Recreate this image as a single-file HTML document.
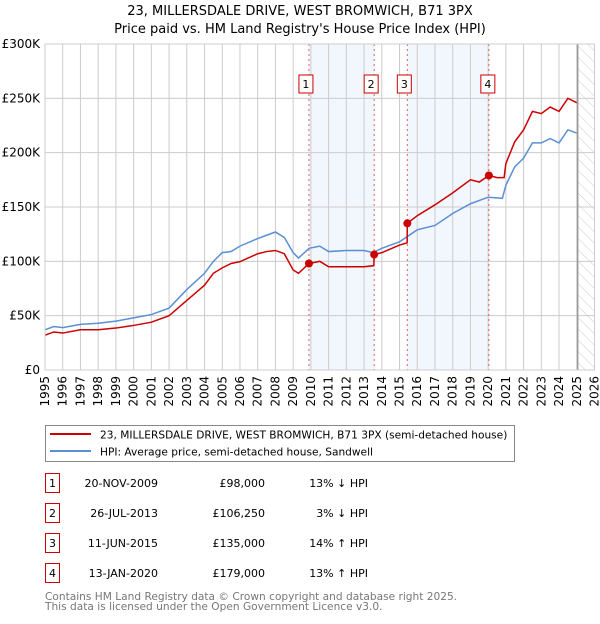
<!DOCTYPE html>
<html><head><meta charset="utf-8"><style>
body{margin:0;background:#fff;font-family:"DejaVu Sans","Liberation Sans",sans-serif;}
svg text{font-family:"DejaVu Sans","Liberation Sans",sans-serif;}
</style></head><body>
<svg id="chart" width="600" height="620" xmlns="http://www.w3.org/2000/svg">
<defs><pattern id="hatch" width="8" height="8" patternUnits="userSpaceOnUse" patternTransform="rotate(-45)"><line x1="0" y1="0" x2="0" y2="8" stroke="#ccc" stroke-width="1"/></pattern></defs>
<text x="300" y="15" text-anchor="middle" font-size="13">23, MILLERSDALE DRIVE, WEST BROMWICH, B71 3PX</text>
<text x="300" y="33" text-anchor="middle" font-size="13">Price paid vs. HM Land Registry's House Price Index (HPI)</text>
<g id="plot"></g>
<g>
<rect x="45.5" y="425.5" width="469" height="36" fill="#fff" stroke="#888"/>
<line x1="50" y1="434" x2="91" y2="434" stroke="#cc0000" stroke-width="2"/>
<text x="100" y="438.5" font-size="10.6">23, MILLERSDALE DRIVE, WEST BROMWICH, B71 3PX (semi-detached house)</text>
<line x1="50" y1="451" x2="91" y2="451" stroke="#5b8fd4" stroke-width="2"/>
<text x="100" y="455.5" font-size="10.6">HPI: Average price, semi-detached house, Sandwell</text>
</g>
<g id="table"></g>
<text x="45" y="600" font-size="10.6" fill="#777">Contains HM Land Registry data © Crown copyright and database right 2025.</text>
<text x="45" y="610" font-size="10.6" fill="#777">This data is licensed under the Open Government Licence v3.0.</text>
</svg>
<script>
const yTicks=[0,50,100,150,200,250,300];
const yTickLabels=["£0","£50K","£100K","£150K","£200K","£250K","£300K"];
const xYears=[1995,1996,1997,1998,1999,2000,2001,2002,2003,2004,2005,2006,2007,2008,2009,2010,2011,2012,2013,2014,2015,2016,2017,2018,2019,2020,2021,2022,2023,2024,2025,2026];
const hpiT=[1995,1995.5,1996,1997,1998,1999,2000,2001,2002,2003,2004,2004.5,2005,2005.5,2006,2007,2007.5,2008,2008.5,2009,2009.3,2009.9,2010.5,2011,2012,2013,2013.5,2014,2015,2016,2017,2018,2019,2020,2020.8,2021,2021.5,2022,2022.5,2023,2023.5,2024,2024.5,2025];
const hpiV=[37,40,39,42,43,45,48,51,57,74,89,100,108,109,114,121,124,127,122,108,103,112,114,109,110,110,108,112,118,129,133,144,153,159,158,170,187,195,209,209,213,209,221,218];
const redT=[1995,1995.5,1996,1997,1998,1999,2000,2001,2002,2002.5,2003,2003.5,2004,2004.5,2005,2005.5,2006,2007,2007.5,2008,2008.5,2009,2009.3,2009.89,2010.5,2011,2012,2013,2013.55,2013.57,2014,2015,2015.43,2015.44,2016,2017,2018,2019,2019.5,2020.04,2020.5,2020.9,2021,2021.5,2022,2022.5,2023,2023.5,2024,2024.5,2025];
const redV=[32,35,34,37,37,38.6,41,44,50,57,64,71,78,89,94,98,99.7,107,109,110,107,92,89,98,100,95,95,95,96,106.25,108,115,117,135,142,152,163,175,173,179,177,177,190,210,221,238,236,242,238,250,246];
const saleNums=["1","2","3","4"];
const saleT=[2009.89,2013.57,2015.44,2020.04];
const saleV=[98,106.25,135,179];
const saleDates=["20-NOV-2009","26-JUL-2013","11-JUN-2015","13-JAN-2020"];
const salePrices=["£98,000","£106,250","£135,000","£179,000"];
const saleHpi=["13% ↓ HPI","3% ↓ HPI","14% ↑ HPI","13% ↑ HPI"];
const shadeRanges=[[2009.89,2013.57],[2015.44,2020.04]];
const dataEnd=2025.05;

const NS="http://www.w3.org/2000/svg";
const X0=45,X1=594.5,Y0=370,Y1=44;
const xs=t=>X0+(t-1995)/(2026-1995)*(X1-X0);
const ys=v=>Y0-v/300*(Y0-Y1);
const plot=document.getElementById('plot');
function mk(tag,attrs,parent){const e=document.createElementNS(NS,tag);for(const k in attrs)e.setAttribute(k,attrs[k]);(parent||plot).appendChild(e);return e;}
shadeRanges.forEach(r=>{const e=mk('rect',{x:xs(r[0]),y:Y1,width:xs(r[1])-xs(r[0]),height:Y0-Y1,fill:'#f2f6fd'});

});
const h=mk('rect',{x:xs(dataEnd),y:Y1,width:X1-xs(dataEnd),height:Y0-Y1,fill:'url(#hatch)'});


xYears.forEach(yr=>{mk('line',{x1:xs(yr),x2:xs(yr),y1:Y1,y2:Y0,stroke:'#ccc'});
const t=mk('text',{x:0,y:0,'font-size':12,'text-anchor':'end',transform:`translate(${xs(yr)+4},${Y0+6}) rotate(-90)`});t.textContent=yr;

});
yTicks.forEach((v,i)=>{mk('line',{x1:X0,x2:X1,y1:ys(v),y2:ys(v),stroke:'#ccc'});
const t=mk('text',{x:X0-5,y:ys(v)+4,'font-size':12,'text-anchor':'end'});t.textContent=yTickLabels[i];

});
mk('line',{x1:xs(dataEnd),x2:xs(dataEnd),y1:Y1,y2:Y0,stroke:'#999','stroke-width':1.5});
saleT.forEach((t,i)=>{const l=mk('line',{x1:xs(t),x2:xs(t),y1:Y1,y2:Y0,stroke:'#e06060','stroke-dasharray':'2,3'});


const bx=xs(t)-8-(i==3?0:2);
const b=mk('rect',{x:bx,y:75,width:14,height:18,fill:'#fff',stroke:'#cc0000'});


const tx=mk('text',{x:bx+7,y:88,'font-size':11,'text-anchor':'middle'});tx.textContent=saleNums[i];});
function line(T,V,col,name){const p=mk('polyline',{points:T.map((t,i)=>xs(t)+','+ys(V[i])).join(' '),fill:'none',stroke:col,'stroke-width':1.5});

}
line(hpiT,hpiV,'#5b8fd4','hpi-line');
line(redT,redV,'#cc0000','price-paid-line');
saleT.forEach((t,i)=>{const c=mk('circle',{cx:xs(t),cy:ys(saleV[i]),r:4,fill:'#cc0000'});

});
mk('rect',{x:X0,y:Y1,width:X1-X0,height:Y0-Y1,fill:'none',stroke:'#ccc'});
const tb=document.getElementById('table');
saleNums.forEach((n,i)=>{const cy=483+i*30;
const r=mk('rect',{x:45.5,y:cy-9.5,width:14,height:19,fill:'#fff',stroke:'#cc0000'},tb);


const a=mk('text',{x:52.5,y:cy+4,'font-size':11,'text-anchor':'middle'},tb);a.textContent=n;
const d=mk('text',{x:158,y:cy+4,'font-size':11,'text-anchor':'end'},tb);d.textContent=saleDates[i];


const p=mk('text',{x:265,y:cy+4,'font-size':11,'text-anchor':'end'},tb);p.textContent=salePrices[i];


const q=mk('text',{x:368,y:cy+4,'font-size':11,'text-anchor':'end'},tb);q.textContent=saleHpi[i];

});
</script>
</body></html>
